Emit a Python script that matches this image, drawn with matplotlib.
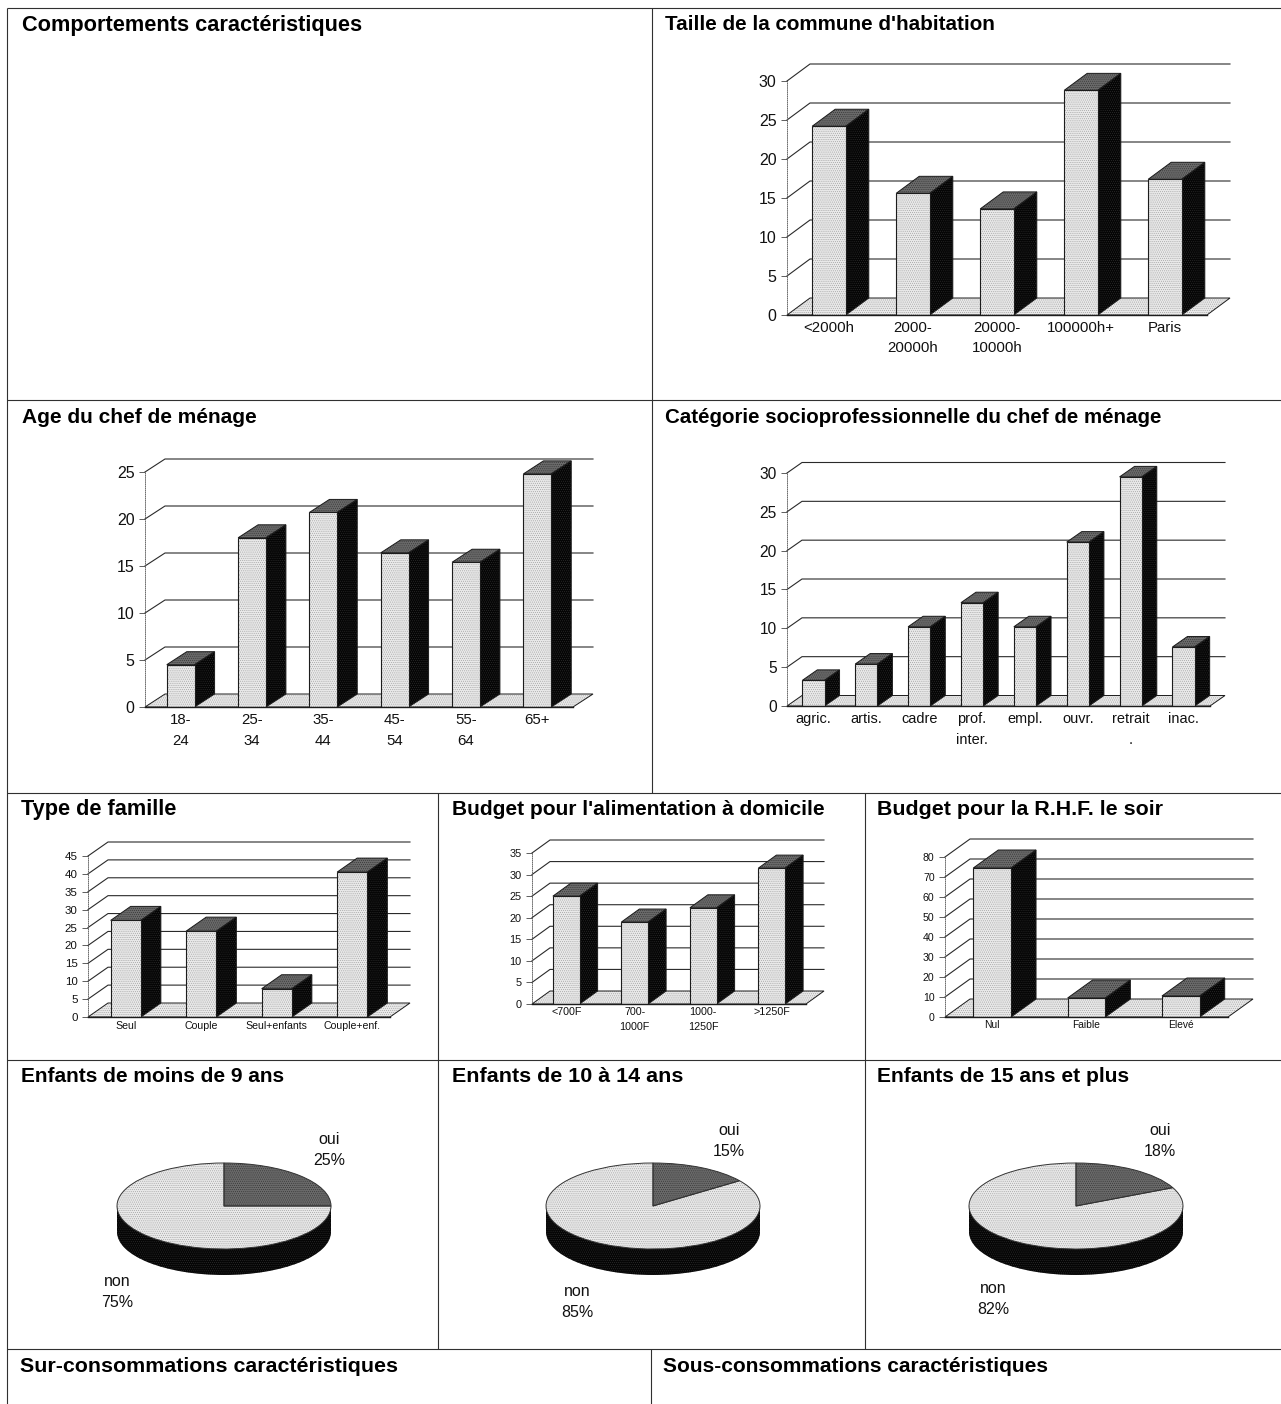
import matplotlib
matplotlib.use("Agg")
import matplotlib.pyplot as plt

plt.rcParams['font.family'] = ['Liberation Sans', 'DejaVu Sans']
plt.rcParams['hatch.linewidth'] = 0.4

W, H = 1281, 1404

# ---------- data ----------
taille_labels = ['<2000h', '2000-\n20000h', '20000-\n10000h', '100000h+', 'Paris']
taille_values = [24.2, 15.6, 13.6, 28.8, 17.4]
taille_ticks = [0, 5, 10, 15, 20, 25, 30]

age_labels = ['18-\n24', '25-\n34', '35-\n44', '45-\n54', '55-\n64', '65+']
age_values = [4.5, 18.0, 20.7, 16.4, 15.4, 24.8]
age_ticks = [0, 5, 10, 15, 20, 25]

csp_labels = ['agric.', 'artis.', 'cadre', 'prof.\ninter.', 'empl.', 'ouvr.', 'retrait\n.', 'inac.']
csp_values = [3.3, 5.4, 10.2, 13.3, 10.2, 21.1, 29.5, 7.6]
csp_ticks = [0, 5, 10, 15, 20, 25, 30]

famille_labels = ['Seul', 'Couple', 'Seul+enfants', 'Couple+enf.']
famille_values = [27, 24, 7.9, 40.5]
famille_ticks = [0, 5, 10, 15, 20, 25, 30, 35, 40, 45]

budget_labels = ['<700F', '700-\n1000F', '1000-\n1250F', '>1250F']
budget_values = [25, 19, 22.3, 31.5]
budget_ticks = [0, 5, 10, 15, 20, 25, 30, 35]

rhf_labels = ['Nul', 'Faible', 'Elevé']
rhf_values = [74.5, 9.5, 10.5]
rhf_ticks = [0, 10, 20, 30, 40, 50, 60, 70, 80]

pie_names = ['oui', 'non']
pie_moins9 = [25, 75]
pie_10a14 = [15, 85]
pie_15plus = [18, 82]

titles = [
    ("Comportements caractéristiques", 22, 26, 341),
    ("Taille de la commune d'habitation", 665, 25, 329),
    ("Age du chef de ménage", 22, 417, 235),
    ("Catégorie socioprofessionnelle du chef de ménage", 665, 417, 499),
    ("Type de famille", 21, 810, 156),
    ("Budget pour l'alimentation à domicile", 452, 810, 372),
    ("Budget pour la R.H.F. le soir", 877, 810, 286),
    ("Enfants de moins de 9 ans", 21, 1077, 264),
    ("Enfants de 10 à 14 ans", 452, 1076, 231),
    ("Enfants de 15 ans et plus", 877, 1076, 252),
    ("Sur-consommations caractéristiques", 20, 1367, 377),
    ("Sous-consommations caractéristiques", 663, 1366, 384),
]

# ---------- styles ----------
LIGHT, LIGHT_H = '#e9e9e9', '#a0a0a0'
DARK, DARK_H = '#050505', '#2e2e2e'
MID, MID_H = '#6a6a6a', '#333333'
INK = '#1c1c1c'

fig = plt.figure(figsize=(W / 100, H / 100), dpi=100, facecolor='white')

bg = fig.add_axes([0, 0, 1, 1])
bg.set_xlim(0, W)
bg.set_ylim(H, 0)
bg.axis('off')
panel_lines = [
    (7, 8, 1281, 8), (7, 400, 1281, 400), (7, 793, 1281, 793), (7, 1060, 1281, 1060),
    (7, 1349, 1281, 1349), (7, 8, 7, 1404), (652, 8, 652, 793), (651, 1349, 651, 1404),
    (438, 793, 438, 1349), (865, 793, 865, 1349),
]
for x1, y1, x2, y2 in panel_lines:
    bg.plot([x1, x2], [y1, y2], color='#303030', lw=0.8, solid_capstyle='butt')


def stipple(ax, xs, ys, face, dots, z):
    ax.fill(xs, ys, facecolor=face, edgecolor=dots, hatch='........', lw=0, zorder=z, clip_on=False)
    ax.fill(xs, ys, facecolor='none', edgecolor=INK, lw=0.7, zorder=z + 0.1, clip_on=False)


def bar3d(labels, values, ticks, x0, xf, y0, ytop, dx, dy, wfrac, tick_px, label_px, pad, ls, tick_pad=3):
    ax = fig.add_axes([x0 / W, 1 - y0 / H, (xf - x0) / W, (y0 - ytop) / H])
    ax.patch.set_visible(False)
    n = len(values)
    vmax = ticks[-1]
    ax.set_xlim(-0.5, n - 0.5)
    ax.set_ylim(0, vmax)
    ddx = dx * n / (xf - x0)
    ddy = dy * vmax / (y0 - ytop)
    left, right = -0.5, n - 0.5

    stipple(ax, [left, right, right + ddx, left + ddx], [0, 0, ddy, ddy], LIGHT, LIGHT_H, 1)
    for t in ticks[1:]:
        ax.plot([left, left + ddx, right + ddx], [t, t + ddy, t + ddy], color='#2a2a2a', lw=0.8, zorder=1.5, clip_on=False)

    positions = list(range(n))
    for p, v in zip(positions, values):
        xl, xr = p - wfrac / 2, p + wfrac / 2
        stipple(ax, [xr, xr + ddx, xr + ddx, xr], [0, ddy, v + ddy, v], DARK, DARK_H, 3)
        stipple(ax, [xl, xr, xr + ddx, xl + ddx], [v, v, v + ddy, v + ddy], MID, MID_H, 3)
    ax.bar(positions, values, width=wfrac, facecolor=LIGHT, edgecolor=LIGHT_H, hatch='........', lw=0, zorder=4)
    ax.bar(positions, values, width=wfrac, fill=False, edgecolor=INK, lw=0.8, zorder=4.1)

    ax.set_xticks(positions)
    ax.set_xticklabels(labels, linespacing=ls)
    ax.set_yticks(ticks)
    ax.tick_params(axis='x', length=0, pad=pad, labelsize=label_px * 0.72, labelcolor='#111111')
    ax.tick_params(axis='y', length=4.5, width=0.6, pad=tick_pad, labelsize=tick_px * 0.72, labelcolor='#111111', color='#444444')
    for s in ('top', 'right'):
        ax.spines[s].set_visible(False)
    ax.spines['left'].set_linestyle((0, (1, 1.5)))
    ax.spines['left'].set_linewidth(0.6)
    ax.spines['left'].set_color('#555555')
    ax.spines['bottom'].set_linewidth(1.0)
    ax.spines['bottom'].set_color(INK)
    ax.spines['bottom'].set_zorder(5)
    return ax


bar3d(taille_labels, taille_values, taille_ticks, 787, 1207, 315, 81, 23, 17, 0.40, 16, 15, 4, 1.55)
bar3d(age_labels, age_values, age_ticks, 145, 573, 707, 472, 20, 13, 0.39, 16, 15, 4, 1.65)
bar3d(csp_labels, csp_values, csp_ticks, 787, 1210, 706, 473, 15, 10.5, 0.42, 15.5, 14.5, 4, 1.65)
bar3d(famille_labels, famille_values, famille_ticks, 88, 390, 1017, 856, 20, 14, 0.40, 11.5, 10.5, 3, 1.4)
bar3d(budget_labels, budget_values, budget_ticks, 532, 806, 1004, 853, 18, 13, 0.39, 11, 10.7, 2, 1.65)
bar3d(rhf_labels, rhf_values, rhf_ticks, 945, 1228, 1017, 857, 25, 18, 0.40, 10.5, 10.3, 2, 1.4)


def pie3d(values, cx, cy, rx, ry, depth, oui_xy, non_xy):
    d = depth / ry
    ax = fig.add_axes([(cx - rx) / W, 1 - (cy + ry + depth) / H, 2 * rx / W, (2 * ry + depth) / H])
    ax.patch.set_visible(False)
    # extruded rim
    ax.pie([1], radius=1, center=(0, -d), colors=[DARK], wedgeprops=dict(hatch='........', edgecolor=DARK_H, lw=0))
    ax.fill([-1, 1, 1, -1], [-d, -d, 0, 0], facecolor=DARK, edgecolor=DARK_H, hatch='........', lw=0, zorder=1.2)
    wedges, _ = ax.pie(values, startangle=90, counterclock=False, radius=1, colors=[MID, LIGHT],
                       wedgeprops=dict(lw=0, hatch='........', edgecolor=LIGHT_H, zorder=2))
    wedges[0].set_edgecolor(MID_H)
    wedges[0].set_hatch('........')
    ax.pie(values, startangle=90, counterclock=False, radius=1,
           wedgeprops=dict(fill=False, edgecolor='#333333', lw=0.7, zorder=2.5))
    ax.set_aspect('auto')
    ax.set_xlim(-1, 1)
    ax.set_ylim(-1 - d, 1)
    for (name, v, (tx, ty)) in zip(pie_names, values, (oui_xy, non_xy)):
        fig.text(tx / W, 1 - ty / H, f"{name}\n{v}%", ha='center', va='center', fontsize=16 * 0.72,
                 linespacing=1.5, color='#111111')


pie3d(pie_moins9, 224, 1206, 107, 43, 26, (329, 1150), (117, 1292))
pie3d(pie_10a14, 653, 1206, 107, 43, 26, (729, 1141), (577, 1302))
pie3d(pie_15plus, 1076, 1206, 107, 43, 26, (1160, 1141), (993, 1299))

renderer = fig.canvas.get_renderer()
for text, tx, ty, width in titles:
    t = fig.text(tx / W, 1 - ty / H, text, ha='left', va='center', fontsize=15.5,
                 fontweight='bold', color='black')
    t.set_fontsize(15.5 * width / t.get_window_extent(renderer).width)

fig.savefig('out.png', dpi=100, facecolor='white')
